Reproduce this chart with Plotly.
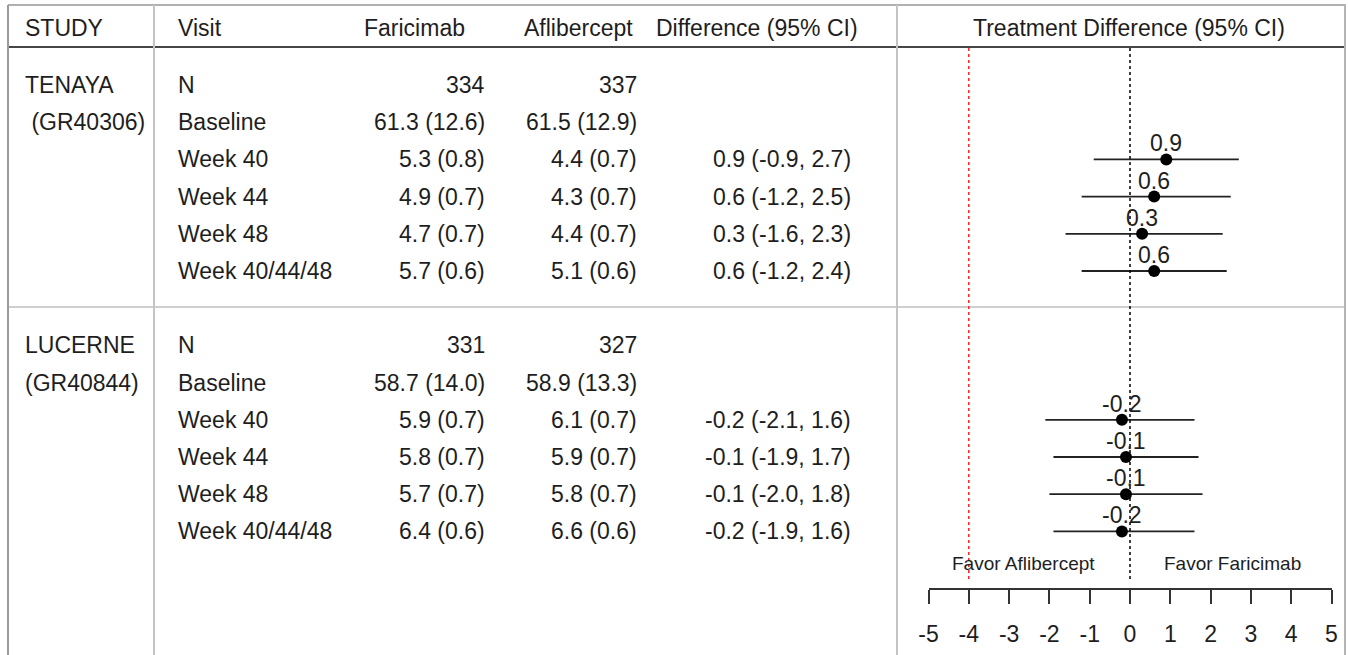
import plotly.graph_objects as go

# ---------------- data ----------------
studies = ["TENAYA", "LUCERNE"]
study_ids = [" (GR40306)", "(GR40844)"]
visits = ["N", "Baseline", "Week 40", "Week 44", "Week 48", "Week 40/44/48"]

faricimab = {
    "TENAYA": ["334", "61.3 (12.6)", "5.3 (0.8)", "4.9 (0.7)", "4.7 (0.7)", "5.7 (0.6)"],
    "LUCERNE": ["331", "58.7 (14.0)", "5.9 (0.7)", "5.8 (0.7)", "5.7 (0.7)", "6.4 (0.6)"],
}
aflibercept = {
    "TENAYA": ["337", "61.5 (12.9)", "4.4 (0.7)", "4.3 (0.7)", "4.4 (0.7)", "5.1 (0.6)"],
    "LUCERNE": ["327", "58.9 (13.3)", "6.1 (0.7)", "5.9 (0.7)", "5.8 (0.7)", "6.6 (0.6)"],
}
diff_est = {"TENAYA": [0.9, 0.6, 0.3, 0.6], "LUCERNE": [-0.2, -0.1, -0.1, -0.2]}
diff_lo = {"TENAYA": [-0.9, -1.2, -1.6, -1.2], "LUCERNE": [-2.1, -1.9, -2.0, -1.9]}
diff_hi = {"TENAYA": [2.7, 2.5, 2.3, 2.4], "LUCERNE": [1.6, 1.7, 1.8, 1.6]}
headers = ["STUDY", "Visit", "Faricimab", "Aflibercept", "Difference (95% CI)",
           "Treatment Difference (95% CI)"]
tick_vals = [-5, -4, -3, -2, -1, 0, 1, 2, 3, 4, 5]
margin_line = -4
favor_labels = ["Favor Aflibercept", "Favor Faricimab"]

# ---------------- layout constants ----------------
W, H = 1348, 655
FONT = "Arial, Liberation Sans, sans-serif"
TXT = "#1e1e1e"
FS = 23
ROW0_PX, ROW_PX = 85, 37.2
study_row_start = {"TENAYA": 0, "LUCERNE": 7}
diff_offset = 2  # first visit row with a difference


def px(x):
    return x / W


def py(y):
    return 1 - y / H


def ann(text, x, y, xref="paper", yref="paper", xanchor="left", size=FS, yshift=0):
    return dict(text=text, x=x, y=y, xref=xref, yref=yref, xanchor=xanchor,
                yanchor="middle", showarrow=False, yshift=yshift, borderpad=0,
                font=dict(family=FONT, size=size, color=TXT))


fig = go.Figure()
annotations = []

# headers
hdr_pos = [(24, "left"), (177, "left"), (414, "center"), (578, "center"),
           (757, "center"), (1129, "center")]
for h, (x, al) in zip(headers, hdr_pos):
    annotations.append(ann(h, px(x), py(28), xanchor=al))

for s, sid in zip(studies, study_ids):
    r0 = study_row_start[s]
    annotations.append(ann(s, px(24), r0, yref="y"))
    annotations.append(ann(sid, px(24), r0 + 1, yref="y"))
    for i, v in enumerate(visits):
        r = r0 + i
        annotations.append(ann(v, px(177), r, yref="y"))
        annotations.append(ann(faricimab[s][i], px(486), r, yref="y", xanchor="right"))
        annotations.append(ann(aflibercept[s][i], px(638), r, yref="y", xanchor="right"))
    for j, (e, lo, hi) in enumerate(zip(diff_est[s], diff_lo[s], diff_hi[s])):
        r = r0 + diff_offset + j
        annotations.append(ann(f"{e:.1f} ({lo:.1f}, {hi:.1f})", px(852), r, yref="y",
                               xanchor="right"))
        # point label above the marker
        annotations.append(ann(f"{e:.1f}", e, r, xref="x", yref="y", xanchor="center",
                               yshift=16))

    rows = [r0 + diff_offset + j for j in range(len(diff_est[s]))]
    fig.add_trace(go.Scatter(
        x=diff_est[s], y=rows, mode="markers",
        marker=dict(color="black", size=12, symbol="circle"),
        error_x=dict(type="data", symmetric=False,
                     array=[h - e for h, e in zip(diff_hi[s], diff_est[s])],
                     arrayminus=[e - l for e, l in zip(diff_est[s], diff_lo[s])],
                     width=0, thickness=1.8, color="#222"),
        showlegend=False, hoverinfo="skip", cliponaxis=False))

# favor labels
for lab, xc in zip(favor_labels, [1023, 1232]):
    annotations.append(ann(lab, px(xc), py(563), xanchor="center", size=19))

shapes = []
# table borders
shapes.append(dict(type="line", xref="paper", yref="paper", x0=px(8), x1=px(1346),
                   y0=py(5), y1=py(5), line=dict(color="#b0b0b0", width=2)))
shapes.append(dict(type="line", xref="paper", yref="paper", x0=px(8), x1=px(1346),
                   y0=py(47), y1=py(47), line=dict(color="#474747", width=2)))
shapes.append(dict(type="line", xref="paper", yref="paper", x0=px(8), x1=px(1346),
                   y0=py(307), y1=py(307), line=dict(color="#cfcfcf", width=2)))
for xv, col in [(8, "#9a9a9a"), (154, "#c4c4c4"), (897, "#c4c4c4"), (1345, "#b4b4b4")]:
    shapes.append(dict(type="line", xref="paper", yref="paper", x0=px(xv), x1=px(xv),
                       y0=py(5), y1=py(655), line=dict(color=col, width=2)))
# reference lines
shapes.append(dict(type="line", xref="x", yref="paper", x0=0, x1=0, y0=py(48), y1=py(582),
                   line=dict(color="black", width=1.5, dash="dot")))
shapes.append(dict(type="line", xref="x", yref="paper", x0=margin_line, x1=margin_line,
                   y0=py(48), y1=py(582), line=dict(color="#ff2020", width=1.5, dash="dot")))

y_top = -ROW0_PX / ROW_PX
y_bot = (H - ROW0_PX) / ROW_PX

fig.update_layout(
    width=W, height=H, margin=dict(l=0, r=0, t=0, b=0, pad=0),
    paper_bgcolor="white", plot_bgcolor="rgba(0,0,0,0)",
    annotations=annotations, shapes=shapes,
    xaxis=dict(domain=[928.5 / W, 1331.5 / W], range=[-5, 5], anchor="free",
               position=py(588.5), showgrid=False, zeroline=False,
               showline=True, linecolor="#333", linewidth=2,
               ticks="outside", ticklen=14, tickwidth=2, tickcolor="#333",
               tickvals=tick_vals, ticktext=[str(t) for t in tick_vals],
               tickfont=dict(family=FONT, size=FS, color=TXT),
               ticklabelstandoff=11, fixedrange=True, automargin=False),
    yaxis=dict(domain=[0, 1], range=[y_bot, y_top], visible=False, fixedrange=True),
)

fig.write_html(
    "out.html",
    config={"displayModeBar": False, "responsive": False},
    post_script="document.body.style.margin='0';document.body.style.overflow='hidden';",
)
